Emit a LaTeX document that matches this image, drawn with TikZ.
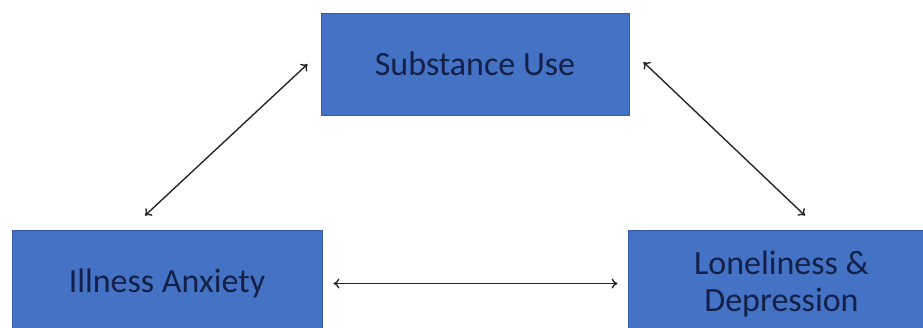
\documentclass[tikz,border=0pt]{standalone}
\usepackage{fontspec}
\setmainfont{Carlito}
\usepackage{xcolor}
\usetikzlibrary{arrows.meta, positioning, calc}
\definecolor{boxblue}{RGB}{68,114,196}
\definecolor{boxedge}{RGB}{52,92,168}
\definecolor{navy}{RGB}{20,32,72}
\definecolor{arrowgray}{RGB}{40,40,40}

\begin{document}
\begin{tikzpicture}[x=1pt, y=-1pt,
    factor/.style={rectangle, fill=boxblue, draw=boxedge, line width=0.8pt, text=navy, align=center, inner sep=0pt, font=\fontsize{34}{37}\selectfont},
    link/.style={<->, >={To[length=6pt, width=10pt]}, arrowgray, line width=1.4pt}]
      \useasboundingbox (0,0) rectangle (923,327);
      \clip (0,0) rectangle (923,327);

      \node[factor, minimum width=308pt, minimum height=102pt] (sub) at (475,64) {Substance Use};
      \node[factor, minimum width=310pt, minimum height=107pt] (anx) at (167,283.5) {Illness Anxiety};
      \node[factor, minimum width=307pt, minimum height=107pt] (lon) at (781.5,283.5) {Loneliness \&\\ Depression};

      \draw[link] ([xshift=-13pt]sub.west) -- ([shift={(-22pt,14pt)}]anx.north);
      \draw[link] ([shift={(14pt,2pt)}]sub.east) -- ([shift={(23.5pt,14pt)}]lon.north);
      \draw[link] ([xshift=11pt]anx.east) -- ([xshift=-10pt]lon.west);
\end{tikzpicture}
\end{document}
